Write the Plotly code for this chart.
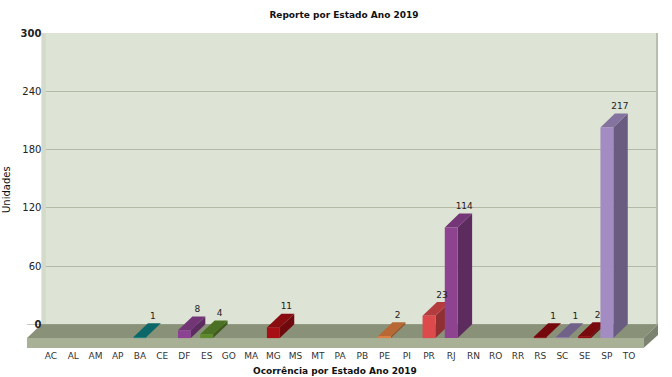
import plotly.graph_objects as go

categories = ["AC","AL","AM","AP","BA","CE","DF","ES","GO","MA","MG","MS","MT","PA","PB","PE","PI","PR","RJ","RN","RO","RR","RS","SC","SE","SP","TO"]
values = [0,0,0,0,1,0,8,4,0,0,11,0,0,0,0,2,0,23,114,0,0,0,1,1,2,217,0]
bar_colors = {"BA":"#0f8080","DF":"#8c4292","ES":"#5f8a2c","MG":"#a80f14","PE":"#e08040","PR":"#dc4a4c",
              "RJ":"#8e4391","RS":"#8e0a10","SC":"#8b78a8","SE":"#930d12","SP":"#a28cc2"}
y_ticks = [0,60,120,180,240,300]
y_labels = ["<b>0</b>","60","120","180","240","<b>300</b>"]

FONT = "DejaVu Sans"
X0, X1 = -1.08, 27.3        # horizontal axis window
Y0, Y1 = -24.4, 300         # vertical axis window
DX, DY = 0.65, 14.2         # 3D depth in axis units
HALF = 0.29                 # half width of a bar front
LEFT_W = X0 + DX
RIGHT_F = X1 - DX


def shade(hex_color, f):
    r, g, b = (int(hex_color[i:i+2], 16) for i in (1, 3, 5))
    return "#%02x%02x%02x" % (int(r*f), int(g*f), int(b*f))


def poly(xs, ys, color):
    return go.Scatter(x=xs + xs[:1], y=ys + ys[:1], mode="lines", fill="toself", fillcolor=color,
                      line=dict(width=0, color=color), hoverinfo="skip", showlegend=False)


fig = go.Figure()
label_x, label_y, label_t = [], [], []
for i, (cat, v) in enumerate(zip(categories, values)):
    if v == 0:
        continue
    c = bar_colors[cat]
    l, r = i - HALF, i + HALF
    base, top = -DY, v - DY
    fig.add_trace(poly([r, r + DX, r + DX, r], [base, 0, v, top], shade(c, 0.66)))
    fig.add_trace(poly([l, r, r + DX, l + DX], [top, top, v, v], shade(c, 0.82)))
    fig.add_trace(poly([l, r, r, l], [base, base, top, top], c))
    label_x.append(i + DX * 0.9)
    label_y.append(v + 2)
    label_t.append(str(v))

fig.add_trace(go.Scatter(x=label_x, y=label_y, text=label_t, mode="text", textposition="top center",
                         textfont=dict(family=FONT, size=9, color="#222222"), hoverinfo="skip", showlegend=False))

shapes = [
    dict(type="rect", xref="x", yref="y", x0=LEFT_W, x1=X1, y0=0, y1=Y1, layer="below",
         fillcolor="#dde3d5", line_width=0),
    dict(type="rect", xref="x", yref="y", x0=X0, x1=LEFT_W, y0=0, y1=Y1, layer="between",
         fillcolor="#ffffff", line_width=0),
    dict(type="rect", xref="x", yref="y", x0=LEFT_W, x1=LEFT_W + 0.2, y0=0, y1=Y1, layer="between",
         fillcolor="#d5dbcb", line_width=0),
    dict(type="rect", xref="x", yref="y", x0=X1-0.09, x1=X1, y0=0, y1=Y1, layer="between",
         fillcolor="#b9bfae", line_width=0),
    dict(type="path", xref="x", yref="y", layer="between", fillcolor="#8a9179", line_width=0,
         path=f"M{X0},{-DY} L{LEFT_W},0 L{X1},0 L{RIGHT_F},{-DY} Z"),
    dict(type="rect", xref="x", yref="y", x0=X0, x1=RIGHT_F, y0=Y0, y1=-DY, layer="between",
         fillcolor="#a8b096", line_width=0),
    dict(type="path", xref="x", yref="y", layer="between", fillcolor="#7b8370", line_width=0,
         path=f"M{RIGHT_F},{-DY} L{X1},0 L{X1},{-11} L{RIGHT_F},{Y0} Z"),
]

fig.update_layout(
    width=672, height=377, autosize=False,
    margin=dict(l=27, r=14, t=33, b=29, autoexpand=False),
    paper_bgcolor="#ffffff", plot_bgcolor="#ffffff",
    showlegend=False, shapes=shapes,
    title=dict(text="<b>Reporte por Estado Ano 2019</b>", x=344/672, xanchor="center", y=1-15/377, yanchor="middle",
               font=dict(family=FONT, size=9, color="#111111")),
    xaxis=dict(range=[X0, X1], tickmode="array", tickvals=list(range(len(categories))), ticktext=categories,
               showgrid=False, zeroline=False, showline=False, ticks="", fixedrange=True, automargin=False,
               ticklabelstandoff=1, tickfont=dict(family=FONT, size=9, color="#333333")),
    yaxis=dict(range=[Y0, Y1], tickmode="array", tickvals=y_ticks, ticktext=y_labels,
               anchor="free", position=(LEFT_W - X0) / (X1 - X0), showgrid=True, gridcolor="#b5baa8", gridwidth=1,
               zeroline=False, showline=False, ticks="", fixedrange=True, automargin=False,
               tickfont=dict(family=FONT, size=10, color="#222222")),
    annotations=[
        dict(text="<b>Ocorrência por Estado Ano 2019</b>", xref="paper", yref="paper",
             x=(335-27)/631, y=-23/315, xanchor="center", yanchor="middle", showarrow=False,
             font=dict(family=FONT, size=9, color="#111111")),
        dict(text="Unidades", xref="paper", yref="paper", x=(6-27)/631, y=1-157/315, textangle=-90,
             xanchor="center", yanchor="middle", showarrow=False,
             font=dict(family=FONT, size=10, color="#111111")),
    ],
)

# the page's default body margin would shift the figure by 8 px
fig.write_html("out.html", config={"displayModeBar": False},
               post_script="document.body.style.margin='0';document.body.style.overflow='hidden';")
